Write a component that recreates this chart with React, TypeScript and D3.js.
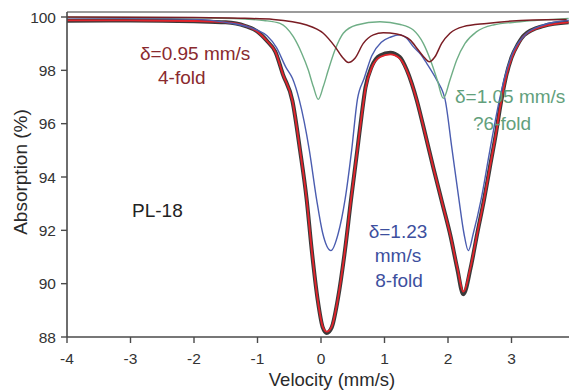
import React from 'react';
import * as d3 from 'd3';

const W = 569;
const H = 391;

const xTicks = [-4, -3, -2, -1, 0, 1, 2, 3, 4];
const xTickLabels = ['-4', '-3', '-2', '-1', '0', '1', '2', '3', ''];
const yTicks = [88, 90, 92, 94, 96, 98, 100];

// total fit (red)
const fitV = [-4.0, -3.0, -2.0, -1.5, -1.2, -1.0, -0.85, -0.72, -0.6, -0.45, -0.33, -0.225, -0.146, -0.052, 0.027, 0.09, 0.169, 0.263, 0.378, 0.472, 0.572, 0.64, 0.7, 0.8, 0.93, 1.09, 1.24, 1.35, 1.43, 1.507, 1.638, 1.769, 1.917, 2.043, 2.146, 2.241, 2.357, 2.461, 2.567, 2.661, 2.756, 2.82, 2.9, 3.0, 3.1, 3.2, 3.5, 3.9];
const fitA = [99.87, 99.87, 99.85, 99.8, 99.68, 99.45, 99.1, 98.7, 97.85, 96.85, 95.0, 93.14, 91.26, 89.39, 88.39, 88.2, 88.39, 89.39, 91.26, 93.14, 95.01, 96.3, 97.3, 98.1, 98.5, 98.6, 98.45, 98.0, 97.5, 96.89, 95.64, 94.35, 92.95, 91.75, 90.6, 89.7, 90.64, 91.89, 93.14, 94.39, 95.64, 96.6, 97.6, 98.45, 98.95, 99.3, 99.65, 99.8];

// measured spectrum (dark)
const dataV = [-4.0, -3.0, -2.0, -1.5, -1.2, -1.0, -0.85, -0.72, -0.6, -0.45, -0.33, -0.225, -0.146, -0.052, 0.027, 0.09, 0.169, 0.263, 0.378, 0.472, 0.572, 0.64, 0.7, 0.8, 0.93, 1.09, 1.24, 1.35, 1.43, 1.507, 1.638, 1.769, 1.917, 2.043, 2.146, 2.241, 2.357, 2.461, 2.567, 2.661, 2.756, 2.82, 2.9, 3.0, 3.1, 3.2, 3.5, 3.9];
const dataA = [99.86, 99.87, 99.84, 99.8, 99.67, 99.45, 99.1, 98.7, 97.85, 96.85, 95.0, 93.14, 91.26, 89.39, 88.36, 88.15, 88.36, 89.39, 91.26, 93.14, 95.01, 96.32, 97.35, 98.15, 98.56, 98.66, 98.5, 98.02, 97.5, 96.89, 95.64, 94.35, 92.95, 91.75, 90.56, 89.6, 90.6, 91.89, 93.14, 94.39, 95.64, 96.6, 97.62, 98.48, 98.98, 99.32, 99.66, 99.8];

// component δ=1.23 mm/s (blue)
const blueV = [-4.0, -2.0, -1.5, -1.0, -0.85, -0.7, -0.55, -0.45, -0.342, -0.184, -0.068, 0.027, 0.157, 0.272, 0.378, 0.483, 0.572, 0.68, 0.8, 0.95, 1.1, 1.24, 1.35, 1.453, 1.57, 1.665, 1.822, 1.926, 1.95, 2.06, 2.17, 2.25, 2.32, 2.4, 2.52, 2.66, 2.81, 2.9, 3.0, 3.2, 3.5, 3.9];
const blueA = [99.97, 99.92, 99.8, 99.5, 99.3, 98.85, 98.1, 97.7, 96.89, 95.01, 93.14, 91.89, 91.24, 91.89, 93.14, 95.01, 96.89, 97.7, 98.55, 99.05, 99.25, 99.33, 99.2, 98.89, 98.6, 98.26, 97.64, 97.14, 96.95, 95.1, 93.2, 91.9, 91.24, 91.9, 93.14, 95.01, 96.89, 97.8, 98.55, 99.3, 99.7, 99.88];

// component δ=1.05 mm/s (green)
const greenV = [-4.0, -2.0, -1.2, -0.9, -0.646, -0.436, -0.304, -0.2, -0.121, -0.043, 0.036, 0.115, 0.22, 0.351, 0.562, 0.929, 1.25, 1.454, 1.611, 1.743, 1.831, 1.926, 2.031, 2.137, 2.268, 2.452, 2.713, 3.134, 3.9];
const greenA = [99.99, 99.97, 99.92, 99.87, 99.76, 99.26, 98.64, 98.01, 97.39, 96.91, 97.39, 98.01, 98.76, 99.39, 99.7, 99.82, 99.72, 99.51, 99.01, 98.26, 97.64, 96.95, 97.64, 98.39, 99.01, 99.45, 99.7, 99.82, 99.95];

// component δ=0.95 mm/s (maroon)
const maroonV = [-4.0, -2.0, -1.2, -0.751, -0.225, 0.036, 0.22, 0.351, 0.43, 0.535, 0.666, 0.824, 0.981, 1.192, 1.402, 1.532, 1.638, 1.706, 1.795, 1.9, 2.031, 2.241, 2.609, 3.343, 3.869];
const maroonA = [100.0, 99.98, 99.95, 99.91, 99.7, 99.39, 98.89, 98.45, 98.29, 98.45, 99.01, 99.33, 99.41, 99.36, 99.14, 98.76, 98.45, 98.32, 98.51, 99.01, 99.39, 99.64, 99.76, 99.89, 99.91];

const FONT = '"Liberation Sans", Arial, Helvetica, sans-serif';

export default function App() {
  const x = d3.scaleLinear().domain([-4, 4]).range([67, 575]);
  const y = d3.scaleLinear().domain([88, 100]).range([337, 17]);

  const path = (vs: number[], as: number[]) =>
    d3
      .line<number>()
      .x((v) => x(v))
      .y((_, i) => y(as[i]))
      .curve(d3.curveMonotoneX)(vs) || '';

  const x0 = x(-4);
  const yTop = y(100.19);
  const yBot = y(88);

  return (
    <svg
      width={W}
      height={H}
      viewBox={`0 0 ${W} ${H}`}
      style={{ position: 'absolute', left: 0, top: 0, background: '#fff', fontFamily: FONT }}
    >
      <defs>
        <clipPath id="plotClip">
          <rect x={x0} y={yTop} width={W - x0} height={yBot - yTop} />
        </clipPath>
      </defs>
      <rect x={0} y={0} width={W} height={H} fill="#fff" />

      {/* top frame */}
      <line x1={x0} x2={W} y1={yTop} y2={yTop} stroke="#7a7a7a" strokeWidth={1.5} />

      <g clipPath="url(#plotClip)">
        <path d={path(dataV, dataA)} fill="none" stroke="#3a3a3a" strokeWidth={4} strokeLinejoin="round" />
        <path d={path(fitV, fitA)} fill="none" stroke="#e3232b" strokeWidth={1.8} />
        <path d={path(blueV, blueA)} fill="none" stroke="#4b5db0" strokeWidth={1.4} />
        <path d={path(greenV, greenA)} fill="none" stroke="#6fae86" strokeWidth={1.4} />
        <path d={path(maroonV, maroonA)} fill="none" stroke="#7a1d24" strokeWidth={1.5} />
      </g>

      {/* axes */}
      <line x1={x0} x2={x0} y1={yTop} y2={yBot} stroke="#4a4a4a" strokeWidth={1.6} />
      <line x1={x0} x2={W} y1={yBot} y2={yBot} stroke="#4a4a4a" strokeWidth={1.6} />

      {yTicks.map((t) => (
        <g key={`y${t}`}>
          <line x1={x0 - 6} x2={x0} y1={y(t)} y2={y(t)} stroke="#4a4a4a" strokeWidth={1.4} />
          <text x={x0 - 11} y={y(t) + 5.5} textAnchor="end" fontSize={15.5} fill="#333">
            {t}
          </text>
        </g>
      ))}
      {xTicks.map((t, i) => (
        <g key={`x${t}`}>
          <line x1={x(t)} x2={x(t)} y1={yBot} y2={yBot + 6} stroke="#4a4a4a" strokeWidth={1.4} />
          {xTickLabels[i] ? (
            <text x={x(t)} y={yBot + 27} textAnchor="middle" fontSize={15.5} fill="#333">
              {xTickLabels[i]}
            </text>
          ) : null}
        </g>
      ))}

      <text x={332} y={386} textAnchor="middle" fontSize={18.5} fill="#2a2a2a">
        Velocity (mm/s)
      </text>
      <text
        transform={`translate(27,172) rotate(-90)`}
        textAnchor="middle"
        fontSize={19}
        fill="#2a2a2a"
      >
        Absorption (%)
      </text>

      <text x={132} y={217} fontSize={19} fill="#222">PL-18</text>

      <text x={140} y={60} fontSize={19} fill="#8a2a2e">δ=0.95 mm/s</text>
      <text x={158} y={84} fontSize={19} fill="#8a2a2e">4-fold</text>

      <text x={455} y={103} fontSize={19} fill="#62a07c">δ=1.05 mm/s</text>
      <text x={473} y={130} fontSize={19} fill="#62a07c">?6-fold</text>

      <text x={398} y={238} textAnchor="middle" fontSize={19} fill="#3d4f9e">δ=1.23</text>
      <text x={398} y={262} textAnchor="middle" fontSize={19} fill="#3d4f9e">mm/s</text>
      <text x={399} y={287} textAnchor="middle" fontSize={19} fill="#3d4f9e">8-fold</text>
    </svg>
  );
}
